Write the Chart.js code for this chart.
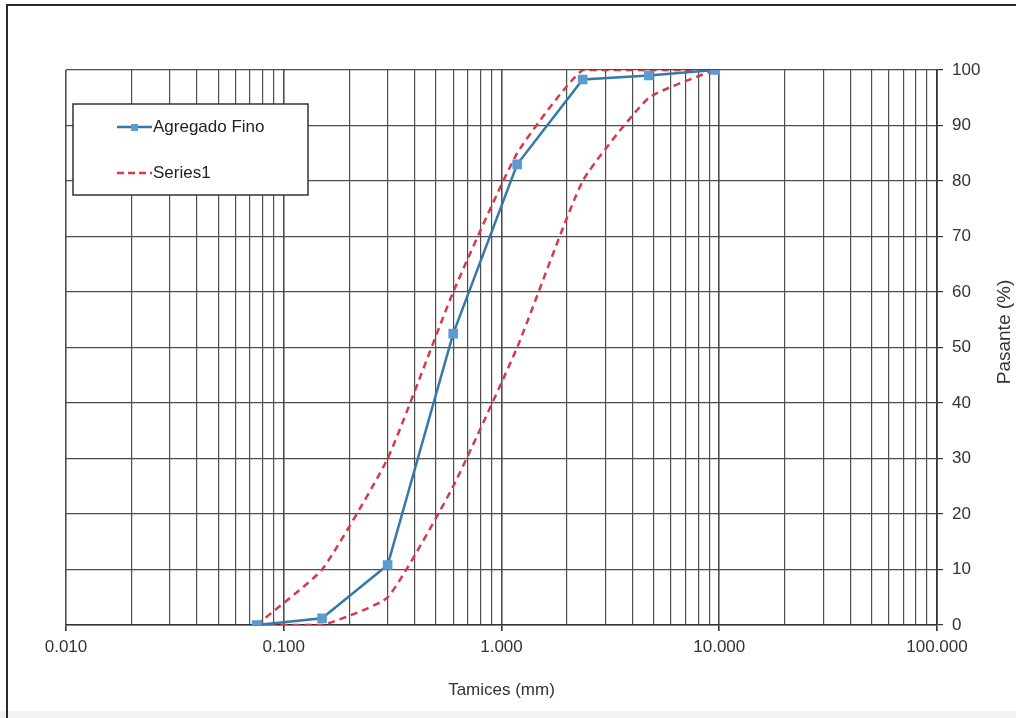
<!DOCTYPE html>
<html>
<head>
<meta charset="utf-8">
<script src="https://cdn.jsdelivr.net/npm/chart.js@4/dist/chart.umd.min.js"></script>
<style>
  html, body { margin: 0; padding: 0; background: #fff; }
  #wrap { width: 1016px; height: 718px; position: relative; }
</style>
</head>
<body>
<div id="wrap"><canvas id="c" width="1016" height="718"></canvas></div>
<script>
// ---- data ----
const sieveSizes   = [0.075, 0.15, 0.3, 0.6, 1.18, 2.36, 4.75, 9.5];
const agregadoFino = [0, 1.2, 10.8, 52.5, 83, 98.3, 99, 100];
const upperLimit   = [0, 10, 30, 60, 85, 100, 100, 100];
const lowerLimit   = [0, 0, 5, 25, 50, 80, 95, 100];
const xTickValues  = [0.01, 0.1, 1, 10, 100];
const xTickLabels  = ['0.010', '0.100', '1.000', '10.000', '100.000'];
const yTickValues  = [0, 10, 20, 30, 40, 50, 60, 70, 80, 90, 100];
const seriesNames  = ['Agregado Fino', 'Series1'];
const xTitle = 'Tamices (mm)';
const yTitle = 'Pasante (%)';

// minor grid positions: 1..9 x each decade
const xGridValues = [];
for (let e = -2; e < 2; e++) {
  for (let m = 1; m <= 9; m++) xGridValues.push(parseFloat((m * Math.pow(10, e)).toPrecision(6)));
}
xGridValues.push(100);

const toPts = (xs, ys) => xs.map((x, i) => ({ x: x, y: ys[i] }));
const isDecade = v => Math.abs(Math.log10(v) - Math.round(Math.log10(v))) < 1e-9;

const FONT = '"Liberation Sans", Arial, sans-serif';
const BLUE = '#3479a8';
const BLUE_PT = '#5b9bd0';
const RED = '#d63a48';
const GRID = '#4e4e4e';

const deco = {
  id: 'deco',
  beforeDraw(chart) {
    const c = chart.ctx;
    c.save();
    c.fillStyle = '#fff';
    c.fillRect(0, 0, chart.width, chart.height);
    c.fillStyle = '#f2f2f2';
    c.fillRect(0, 711, chart.width, 7);
    c.strokeStyle = '#2a2a2a';
    c.lineWidth = 2;
    c.beginPath();
    c.moveTo(7, 718); c.lineTo(7, 5); c.lineTo(1016, 5);
    c.stroke();
    c.restore();
  },
  afterDraw(chart) {
    const c = chart.ctx;
    const a = chart.chartArea;
    c.save();
    // axis titles
    c.fillStyle = '#333';
    c.font = '17px ' + FONT;
    c.textAlign = 'center';
    c.textBaseline = 'middle';
    c.fillText(xTitle, (a.left + a.right) / 2, 690);
    c.save();
    c.translate(1005, 332);
    c.rotate(-Math.PI / 2);
    c.font = '19px ' + FONT;
    c.fillText(yTitle, 0, 0);
    c.restore();

    // legend box
    const lx = 73, ly = 104, lw = 235, lh = 91;
    c.fillStyle = '#fff';
    c.fillRect(lx, ly, lw, lh);
    c.strokeStyle = '#333';
    c.lineWidth = 1.5;
    c.strokeRect(lx, ly, lw, lh);
    // blue sample
    c.strokeStyle = BLUE;
    c.lineWidth = 2.5;
    c.beginPath(); c.moveTo(117, 127); c.lineTo(152, 127); c.stroke();
    c.fillStyle = BLUE_PT;
    c.fillRect(131, 124, 7, 7);
    // red sample
    c.strokeStyle = RED;
    c.setLineDash([7, 4]);
    c.beginPath(); c.moveTo(117, 173); c.lineTo(152, 173); c.stroke();
    c.setLineDash([]);
    c.fillStyle = '#222';
    c.font = '17px ' + FONT;
    c.textAlign = 'left';
    c.fillText(seriesNames[0], 153, 127);
    c.fillText(seriesNames[1], 153, 173);
    c.restore();
  }
};

new Chart(document.getElementById('c'), {
  type: 'scatter',
  data: {
    datasets: [
      {
        label: seriesNames[0],
        data: toPts(sieveSizes, agregadoFino),
        showLine: true,
        borderColor: BLUE,
        borderWidth: 2.5,
        backgroundColor: BLUE_PT,
        pointBackgroundColor: BLUE_PT,
        pointBorderColor: BLUE_PT,
        pointStyle: 'rect',
        pointRadius: 5,
        tension: 0
      },
      {
        label: seriesNames[1],
        data: toPts(sieveSizes, upperLimit),
        showLine: true,
        borderColor: RED,
        borderWidth: 2.5,
        borderDash: [7, 5],
        pointRadius: 0,
        tension: 0.15
      },
      {
        label: seriesNames[1] + ' ',
        data: toPts(sieveSizes, lowerLimit),
        showLine: true,
        borderColor: RED,
        borderWidth: 2.5,
        borderDash: [7, 5],
        pointRadius: 0,
        tension: 0.15
      }
    ]
  },
  options: {
    responsive: false,
    animation: false,
    events: [],
    layout: { padding: { left: 66, top: 70, right: 0, bottom: 0 } },
    plugins: { legend: { display: false }, tooltip: { enabled: false }, title: { display: false } },
    scales: {
      x: {
        type: 'logarithmic',
        min: 0.01, max: 100,
        position: 'bottom',
        afterBuildTicks: s => { s.ticks = xGridValues.map(v => ({ value: v })); },
        afterFit: s => { s.height = 93; },
        ticks: {
          autoSkip: false, maxRotation: 0, minRotation: 0, padding: 6,
          color: '#333', font: { family: FONT, size: 17 },
          callback: v => { const i = xTickValues.findIndex(t => Math.abs(t - v) / t < 1e-9); return i >= 0 ? xTickLabels[i] : ''; }
        },
        grid: {
          color: GRID,
          lineWidth: ctx => (ctx.tick && isDecade(ctx.tick.value)) ? 1.6 : 1.2,
          tickLength: 6,
          tickColor: ctx => (ctx.tick && isDecade(ctx.tick.value)) ? '#333' : 'rgba(0,0,0,0)'
        },
        border: { display: true, color: '#333', width: 1.6 }
      },
      y: {
        type: 'linear',
        position: 'right',
        min: 0, max: 100,
        afterBuildTicks: s => { s.ticks = yTickValues.map(v => ({ value: v })); },
        afterFit: s => { s.width = 79; },
        ticks: { padding: 9, color: '#333', font: { family: FONT, size: 17 } },
        grid: { color: GRID, lineWidth: 1.2, tickLength: 6, tickColor: '#333' },
        border: { display: true, color: '#333', width: 1.6 }
      }
    }
  },
  plugins: [deco]
});
</script>
</body>
</html>
